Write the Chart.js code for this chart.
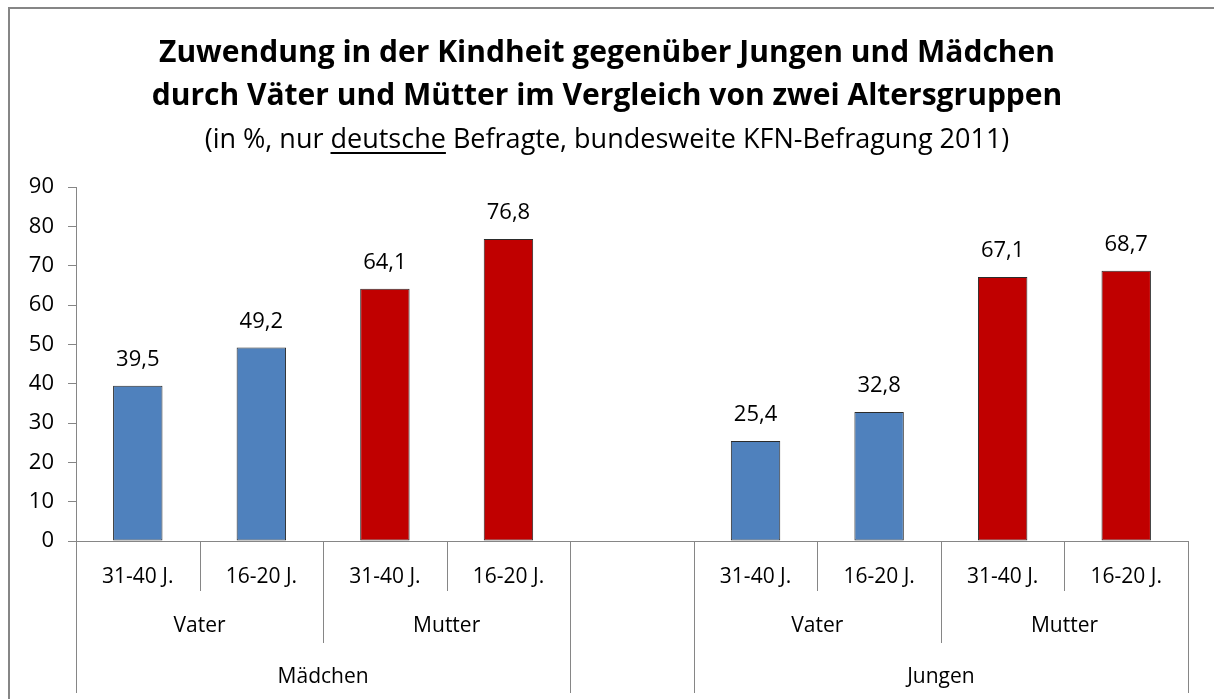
<!DOCTYPE html>
<html>
<head>
<meta charset="utf-8">
<script src="https://cdn.jsdelivr.net/npm/chart.js@4.4.1/dist/chart.umd.min.js"></script>
<style>
    html, body { margin: 0; padding: 0; background: #ffffff; }
    canvas { display: block; }
</style>
</head>
<body>
<canvas id="zuwendungChart" width="1214" height="699"></canvas>
<script>
// Chart data (index 4 is the empty gap slot)
const ageLabels = ['31-40 J.', '16-20 J.', '31-40 J.', '16-20 J.', '', '31-40 J.', '16-20 J.', '31-40 J.', '16-20 J.'];
const parentLabels = ['Vater', 'Vater', 'Mutter', 'Mutter', '', 'Vater', 'Vater', 'Mutter', 'Mutter'];
const genderLabels = ['Mädchen', 'Mädchen', 'Mädchen', 'Mädchen', '', 'Jungen', 'Jungen', 'Jungen', 'Jungen'];
const zuwendungValues = [39.5, 49.2, 64.1, 76.8, null, 25.4, 32.8, 67.1, 68.7];
const yTicks = [0, 10, 20, 30, 40, 50, 60, 70, 80, 90];

const titleLines = [
    'Zuwendung in der Kindheit gegenüber Jungen und Mädchen',
    'durch Väter und Mütter im Vergleich von zwei Altersgruppen'
];
const subtitleParts = ['(in %, nur ', 'deutsche', ' Befragte, bundesweite KFN-Befragung 2011)'];

const FONT = '"Open Sans", "Noto Sans", sans-serif';
const AXIS_GRAY = '#868686';
const parentColors = { 'Vater': '#4f81bd', 'Mutter': '#c00000', '': 'rgba(0,0,0,0)' };

// Frame + titles with the underlined word
const titlePlugin = {
    id: 'titleBlock',
    beforeDraw(chart) {
        const ctx = chart.ctx;
        const cx = chart.width / 2;
        ctx.save();
        ctx.strokeStyle = AXIS_GRAY;
        ctx.lineWidth = 2;
        ctx.strokeRect(9, 8, chart.width + 10, chart.height + 10);

        ctx.fillStyle = '#000';
        ctx.textAlign = 'center';
        ctx.textBaseline = 'alphabetic';
        ctx.font = 'bold 30px ' + FONT;
        ctx.fillText(titleLines[0], cx, 62);
        ctx.fillText(titleLines[1], cx, 105);

        // subtitle pieces, measured so the middle word can be underlined
        ctx.font = '27px ' + FONT;
        const widths = subtitleParts.map(p => ctx.measureText(p).width);
        const total = widths.reduce((a, b) => a + b, 0);
        let x = cx - total / 2;
        ctx.textAlign = 'left';
        subtitleParts.forEach((part, i) => {
            ctx.fillText(part, x, 148);
            if (i === 1) ctx.fillRect(x, 152, widths[i], 2);
            x += widths[i];
        });
        ctx.restore();
    }
};

// Hierarchical category axis: three label rows with separators of three lengths
const multiAxisPlugin = {
    id: 'multiAxis',
    afterDatasetsDraw(chart) {
        const ctx = chart.ctx;
        const area = chart.chartArea;
        const n = ageLabels.length;
        const slot = (area.right - area.left) / n;
        const rowY = [577, 626, 677];
        const lineEnd = [591, 643, 693];

        ctx.save();
        ctx.strokeStyle = AXIS_GRAY;
        ctx.lineWidth = 1;
        ctx.beginPath();
        ctx.moveTo(area.left, Math.round(area.bottom) + 0.5);
        ctx.lineTo(area.right, Math.round(area.bottom) + 0.5);

        for (let i = 0; i <= n; i++) {
            let level;
            if (i === 0 || i === n || genderLabels[i - 1] !== genderLabels[i]) level = 2;
            else if (parentLabels[i - 1] !== parentLabels[i]) level = 1;
            else level = 0;
            const x = Math.round(area.left + i * slot) + 0.5;
            ctx.moveTo(x, area.bottom);
            ctx.lineTo(x, lineEnd[level]);
        }
        ctx.stroke();

        ctx.fillStyle = '#000';
        ctx.textAlign = 'center';
        ctx.textBaseline = 'middle';
        ctx.font = '21px ' + FONT;
        [ageLabels, parentLabels, genderLabels].forEach((row, r) => {
            let start = 0;
            for (let i = 1; i <= n; i++) {
                if (i === n || row[i] !== row[start] || (r === 0)) {
                    if (row[start]) {
                        const mid = area.left + ((start + i) / 2) * slot;
                        ctx.fillText(row[start], mid, rowY[r]);
                    }
                    start = i;
                }
            }
        });
        ctx.restore();
    }
};

// Value labels above each bar, German decimal comma
const valueLabelPlugin = {
    id: 'valueLabels',
    afterDatasetsDraw(chart) {
        const ctx = chart.ctx;
        const meta = chart.getDatasetMeta(0);
        ctx.save();
        ctx.fillStyle = '#000';
        ctx.textAlign = 'center';
        ctx.textBaseline = 'middle';
        ctx.font = '22px ' + FONT;
        meta.data.forEach((bar, i) => {
            const v = zuwendungValues[i];
            if (v === null) return;
            ctx.fillText(v.toFixed(1).replace('.', ','), bar.x, bar.y - 26);
        });
        ctx.restore();
    }
};

const ctx = document.getElementById('zuwendungChart').getContext('2d');
new Chart(ctx, {
    type: 'bar',
    data: {
        labels: ageLabels.map((a, i) => [a, parentLabels[i], genderLabels[i]]),
        datasets: [{
            data: zuwendungValues,
            backgroundColor: parentLabels.map(p => parentColors[p]),
            borderColor: '#2b2b2b',
            borderWidth: 1,
            borderSkipped: false,
            barPercentage: 0.4,
            categoryPercentage: 1.0
        }]
    },
    options: {
        responsive: false,
        animation: false,
        layout: { padding: { top: 187, right: 26, bottom: 158, left: 0 } },
        plugins: {
            legend: { display: false },
            title: { display: false },
            tooltip: { enabled: false }
        },
        scales: {
            x: { display: false },
            y: {
                min: 0,
                max: 90,
                afterFit: (scale) => { scale.width = 76; },
                afterBuildTicks: (scale) => { scale.ticks = yTicks.map(v => ({ value: v })); },
                ticks: {
                    color: '#000',
                    padding: 14,
                    font: { family: FONT, size: 22 }
                },
                grid: {
                    drawOnChartArea: false,
                    drawTicks: true,
                    tickLength: 8,
                    color: AXIS_GRAY
                },
                border: { display: true, color: AXIS_GRAY, width: 1 }
            }
        }
    },
    plugins: [titlePlugin, multiAxisPlugin, valueLabelPlugin]
});
</script>
</body>
</html>
